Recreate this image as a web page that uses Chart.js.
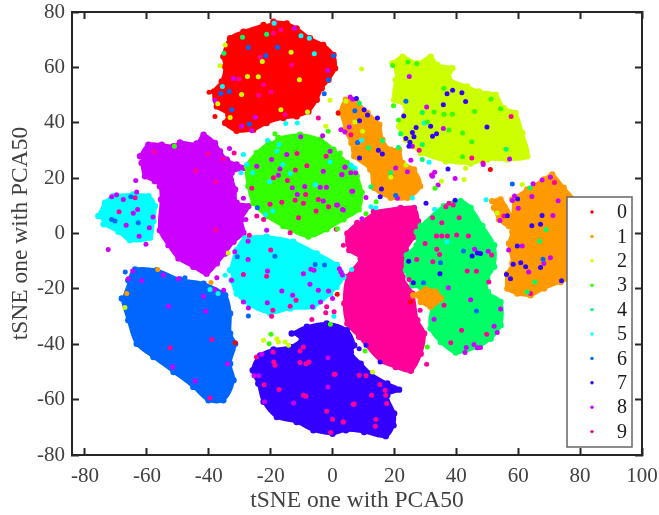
<!DOCTYPE html>
<html>
<head>
<meta charset="utf-8">
<style>body{margin:0;background:#fff}canvas{display:block}</style>
<script src="https://cdn.jsdelivr.net/npm/chart.js@4"></script>
</head>
<body>
<canvas id="tsne" width="659" height="515"></canvas>
<script>
const classNames = ['0','1','2','3','4','5','6','7','8','9'];
const classColors = ['#ff0000','#ff9900','#ccff00','#33ff00','#00ff66','#00ffff','#0066ff','#3300ff','#cc00ff','#ff0099'];
const xTicks = [-80,-60,-40,-20,0,20,40,60,80,100];
const yTicks = [-80,-60,-40,-20,0,20,40,60,80];

// outlines of the dense clusters
const cluster0 = [[-19.1,76.5],[-14.8,75.9],[-11.6,74.1],[-7.3,70.5],[-3,68.1],[0.3,64.5],[0.8,59.7],[-1.3,55.5],[-3.5,52.5],[-5.1,48.3],[-7.8,44.1],[-11.6,42.3],[-15.9,41.7],[-21.3,39.9],[-25.6,37.5],[-31,37.1],[-34.7,39.9],[-33.7,42.9],[-37.4,45.9],[-38.3,51.3],[-35.8,54.9],[-34.7,60.3],[-35.3,63.9],[-33.1,70.5],[-28.8,72.9],[-22.3,75.3]];
const cluster1 = [[2.2,43.5],[4.3,48.3],[8.1,47.1],[11.3,43.5],[15.1,39.3],[16.1,33.9],[18.8,30.3],[21.5,30.3],[22.6,25.5],[26.3,23.1],[28.3,17.1],[24.2,12.9],[18.8,12.9],[13.4,16.5],[12.2,23.1],[7,27.9],[6.1,32.7],[3.8,37.5]];
const cluster1b = [[58.1,12.3],[62.9,15.9],[68.3,19.5],[71,21.3],[74.7,16.5],[78,12],[80,0],[78,-15],[73.7,-17.5],[68.3,-19.9],[64,-22.3],[59.7,-21.7],[56.5,-19.9],[56.5,-14.5],[58.1,-10.8],[57,-3.6],[58.1,0.6],[57.5,2.7]];
const cluster1c = [[51.6,11.7],[54.3,12.3],[57.5,6.3],[57,2.7],[53.8,5.1],[52.2,9.3]];
const cluster1d = [[26.1,-22.3],[30.1,-20.2],[33.3,-21],[35,-23.5],[31.7,-26.5],[28.5,-24.7]];
const cluster2 = [[19.4,61.5],[22.6,63.9],[27.4,61.5],[31.7,63.9],[33.9,60.9],[38.7,59.7],[37.6,56.1],[43.5,53.1],[47.3,51.3],[52.7,50.1],[55.4,45.3],[59.1,43.5],[61.3,36.3],[62.9,27.9],[56.5,26.7],[50,26.7],[44.6,25.3],[36.6,26.1],[28.5,29.1],[26.3,31.5],[23.7,33.9],[21.5,38.7],[23.7,45.9],[19.9,48.3],[20.4,55.5]];
const cluster3 = [[-17.5,34.5],[-10.5,35.7],[-4,33.9],[0.3,30.3],[4.6,25.5],[7.8,20.7],[9.4,14.7],[8.4,8.7],[3.5,5.1],[-1.9,1.5],[-7.8,-1.1],[-15.9,2.7],[-21.3,6.3],[-25.6,11.1],[-27.2,17.1],[-27.7,24.3],[-24.5,29.1],[-20.7,32.7]];
const cluster4 = [[28.5,2.7],[36,9.9],[41.4,11.7],[44.6,9.3],[48.4,2.7],[52.2,-4.2],[52.2,-12],[50,-16.3],[50.2,-21.1],[54.3,-24.7],[54.3,-33.1],[51.1,-38],[46.8,-41],[39.8,-43],[35,-39.2],[31.7,-34.3],[32.3,-27.1],[35.5,-24.1],[33.9,-20.2],[28.5,-19.3],[25.8,-18.7],[23.7,-13.3],[24,-7.8],[27.2,-4.2],[27.2,0.6]];
const cluster5 = [[-33.1,-13.3],[-31,-6],[-28.3,-1.8],[-21.3,-1.2],[-12.7,-3],[-5.1,-7.2],[1.4,-11.4],[3.5,-15.7],[-0.8,-21.7],[-6.2,-26.5],[-13.7,-27.1],[-20.2,-28.7],[-26.7,-25.9],[-31,-21.7],[-32.6,-16.9]];
const cluster5b = [[-75.7,6.3],[-73.5,11.1],[-70.8,13.5],[-64.4,14.1],[-59.5,13.5],[-57.4,9.9],[-57.9,4.5],[-59,-1.5],[-65.5,-2.4],[-69.2,0.6],[-74,3.3]];
const cluster6 = [[-66,-16.9],[-63.8,-13],[-56.8,-13.3],[-49.3,-16.6],[-41.7,-18.1],[-34.7,-22.3],[-33.1,-28.9],[-33.1,-36.1],[-31.5,-39.8],[-33.1,-47],[-32,-53],[-35.3,-60.2],[-40.1,-60.2],[-45,-55.4],[-51.4,-50],[-57.9,-44.6],[-63.3,-39.8],[-66,-31.3],[-68.1,-23.5]];
const cluster7 = [[-13.2,-36.1],[-8.3,-33.7],[-1.9,-32.5],[4.6,-34.9],[7,-40.4],[5.9,-42.8],[9.1,-47],[12.4,-50.6],[17.7,-54.2],[21.5,-56.4],[17.7,-58.4],[19.9,-65],[19.7,-69.3],[17.2,-73.2],[10.2,-71.7],[4.3,-71.1],[0,-72.3],[-6.2,-71.1],[-11.6,-68.1],[-18,-66.3],[-22.3,-60.8],[-24,-54.2],[-25.8,-49.4],[-23.4,-44],[-19.1,-41.9],[-13.7,-41],[-10,-38.6]];
const cluster8 = [[-62.2,27.9],[-59.5,32.1],[-55.2,32.1],[-51.4,31.5],[-49.3,32.9],[-43.9,32.5],[-41.7,35.7],[-38,32.7],[-36.4,29.7],[-34.2,26.7],[-31,24.9],[-28.3,23.7],[-32.6,21.9],[-31.5,15.9],[-31,11.1],[-27.2,9.9],[-29.4,5.1],[-28.8,0.3],[-32,-3],[-34.7,-7.2],[-37.4,-10.8],[-40.7,-14.5],[-45,-12],[-49.8,-9],[-53,-4.2],[-55.8,1.2],[-55.4,12.3],[-55.8,17.1],[-57.4,18.9],[-60.6,20.7],[-61.7,25.5]];
const cluster9 = [[13.4,8],[22,9.2],[26.3,9.2],[27.6,4.4],[26.3,-1.2],[23.7,-6],[23.7,-10.8],[22.6,-15.7],[25.8,-21.7],[27.4,-31.3],[29.6,-36.1],[28.5,-43.4],[25.3,-49.6],[20.4,-48.2],[15.6,-46],[8.6,-37.3],[4.8,-32.5],[3.8,-25.3],[4.8,-15.7],[9.1,-9],[5.4,-6],[4.8,0],[8,3.8]];

// single points that sit on or between the clusters
const stray0 = [[51,23.1],[1.8,43.5],[-39.9,51],[-38,42.3],[-31.5,-39.5],[1.5,-21.9],[25.3,-24.7]];
const stray1 = [[-56.5,-13],[-39.3,-17.7],[-66.5,-21.7]];
const stray2 = [[-34.7,68.1],[-36.4,60.6],[-22.7,62.1],[-13.4,65.5],[-27.5,56.7],[-24,56.6],[-10.7,55.5],[-29.4,50.2],[-37.1,46.9],[-16.7,44.7],[-8.1,43.9],[-33.1,41.9],[-0.8,48.1],[-2.2,38.7],[9.4,59.4],[4.3,47.8],[9.7,36.9],[7.2,40.3],[23.7,24.7],[18.8,20.3],[43,23.6],[35.2,18.9],[42.5,19.5],[61.3,17.7],[53.2,7.4],[-67.1,-26.7],[-33.7,-7],[-22.3,-38.6],[-18,-38],[-17.5,-39.2],[-15.3,-39.2],[-14.2,-40.4],[12.9,-50]];
const stray3 = [[24.4,61.9],[27.2,61.3],[19.4,60.7],[19.7,46.1],[36,52.5],[21.3,41],[32.8,43.9],[36,43.1],[38.7,43.1],[51.2,48.6],[54.3,45.1],[45.9,44.1],[37.6,37.4],[42,36.3],[45,33.1],[30.6,40.3],[42,27.7],[33.1,16.3],[14.1,11.5],[10.8,7.1],[2.5,29.1],[1.6,1.7],[-1.4,36.9],[-18.6,36],[-51.1,31.5],[-19.9,-36.4],[-20.5,-39.8],[-0.7,-32.8],[30.6,-41],[10.5,-42.4]];
const stray4 = [[-29.1,70.9],[-21.3,72],[-35.1,65.1],[8.7,47],[29,43.7],[16.1,33.5],[11.6,31],[21.3,31.1],[22,36],[29,32.1],[29,26.7],[56.1,30.4],[18.8,21.9],[12.4,16.9],[63.8,16.5],[69,1.4],[66.9,-2.8],[65.4,-17.5],[62.9,-21.1]];
const stray5 = [[-18.9,75.9],[-10.2,71.4],[-7.5,70.5],[-5.9,64.9],[-35.6,53.1],[-15.1,39.7],[-11.4,39.9],[-21,33.7],[-18,29.7],[-17.3,32.1],[-28.8,28.5],[-27.7,24.9],[-29.6,21.9],[-16.1,24.9],[-13.7,21.7],[-25.8,21.9],[-20.4,18.7],[-5.6,17.6],[-0.8,25.9],[6,24.7],[7.3,23.7],[-21.6,6.9],[-19.3,8.1],[29.6,39.9],[31.2,25.7],[9.4,33.7],[6.2,24.3],[25.8,12.8],[49.6,12.2],[33,8.8],[12.4,9.7],[14,9.3],[37,-3],[-39.6,-20.2],[-37,-21.7],[-34.7,-15.1],[0.4,-29.9],[1.5,-19.5],[6.2,-13]];
const stray6 = [[-27.2,67.2],[-21.6,64.2],[-17.8,67.3],[0.3,64.2],[-1.3,55.5],[-33.4,51.3],[-36.1,50.6],[-32.6,44.7],[-26.9,39.5],[-2.7,50.5],[-71.4,5.1],[-70.3,4.5],[-62.8,3.9],[-65.2,13.3],[-24.3,9.3],[7.2,44.3],[23.7,47.8],[8.1,32.9],[58.1,17.9],[20.4,13.7],[42.3,-6.3],[34.9,-10.6],[29.4,-17.8],[46.5,-28],[68,-9.3],[-67,-13.9],[-47.7,-16],[-30.8,-8.4],[-18.6,-8.2],[-2.6,-11.4],[-5.6,-11.2],[-27.2,-29.8]];
const stray7 = [[7.7,48.8],[10.2,44.7],[11.3,42.8],[14.5,41.7],[8.7,40.7],[37,50.5],[38.8,51.7],[41.8,50.8],[43,47.7],[35.8,46.5],[23,42.4],[27,38.3],[31.7,38.7],[49.9,38.5],[25.8,36.5],[26.3,34.9],[23.7,34.3],[25,33],[24.7,31.5],[32.3,35.1],[33.6,36],[14.8,30.1],[16.1,28.7],[8.7,27.3],[37.3,23.3],[15.8,16.1],[15.4,13.3],[30.2,10.9],[39.6,12],[59.8,12.5],[56.5,6.4],[64.4,2.8],[67.2,3.3],[67.7,6.5],[59.7,-4.5],[58.4,-11.1],[60.8,-10.6],[62.4,-12],[67.2,-12.3],[56.2,-14.8],[57.5,-16.3],[74,-17.1],[24.6,-10],[45.1,-8.1],[46.8,-7],[47.8,-7.2],[26.1,-17.8],[34.7,-14.5],[15.4,-46.4],[10.8,-40.4],[8.6,-41.6]];
const stray8 = [[-12.3,74.1],[-32,56],[-38,48],[-25,42],[-29.4,38.7],[-26.1,37.1],[-1.6,58.9],[-14.8,28.5],[-10.3,34.9],[-3.2,35.3],[-0.8,29.7],[-19.7,26.7],[-24.5,24.3],[-17,23.3],[-17.5,21],[-3,22.5],[3,21.3],[4,24],[-4,16.7],[-2,16.7],[-13,16.5],[-9,17],[-11.4,14.1],[1.3,10.3],[3.2,8.7],[6.2,15.3],[-3,11.7],[-71.4,13.3],[-69.8,14],[-67.6,12.3],[-63.3,15],[-63,8.7],[-64.4,7.3],[-66.7,3],[-59.2,2.1],[-58,6],[-62.5,-1],[-33.3,30.7],[-63.6,19.1],[-32.6,19.5],[-28.8,12.7],[-28,5.1],[-21.3,1.2],[-72.5,-5.8],[-60.3,-3.9],[-64.6,-13.5],[-66,-16.3],[-61.7,-17.1],[-54.7,-15],[-49.8,-16.3],[-41.7,-22.7],[-53,-26.3],[-41,-28.1],[-37.4,-16],[-35.2,-20.5],[-38,-20.2],[-32.6,-16.9],[-51.7,-48.2],[-44.4,-53.3],[-33.9,-47],[-27.3,-2.8],[-31.6,-6.6],[-27.3,-9.4],[-28.8,-24.7],[-27.2,-26.9],[-21,-13.5],[-21.1,-25],[-16.4,-20.8],[-12.9,-22.3],[-7,-12.9],[-9.4,-14.5],[-6,-13.3],[-7.3,-18.3],[-4.6,-20.5],[-1.3,-20.8],[0,-23.5],[-3.9,-24.7],[-6.5,-26.5],[2.2,-12.7],[2.7,-13.9],[3.2,-15],[-25.4,-51.4],[-23.8,-51.4],[-22.9,-43.6],[-1.5,-44.9],[-1.5,-55.4],[-22,-60.8],[-12.6,-61.2],[5.7,49.3],[6.5,48.5],[24.8,56.7],[30.4,45.7],[35.8,37.9],[25.8,31.5],[25.3,26.5],[5.4,38.5],[2.7,37.5],[4,36.7],[20.4,23.7],[24.2,22.3],[33,22.1],[32.3,20.7],[34.1,17.5],[39.6,19.9],[48.7,24.9],[57.2,26.9],[21,12.7],[5.9,21.9],[7.5,21.9],[4,23.9],[3,21.2],[6.5,15.3],[3.5,8.5],[1.6,10.3],[10.8,13],[9.5,5.3],[64.8,18],[67.7,19.3],[70.4,20.3],[64.4,13.4],[58.8,13.5],[58.1,11.9],[60,9.1],[72.9,11.8],[71.2,6.5],[54.1,4.7],[45.9,-5.7],[50.3,-6.4],[56.9,-6],[61.3,-4.5],[70.4,-8.8],[63.4,-13.9],[68.3,-10.8],[37.4,-19.6],[44.6,-23.9],[54.3,-27.3],[52.2,-33.5],[53.2,-35.8],[32.8,-31],[43.2,-41.2],[45.7,-40.1],[46.8,-41.3],[42.8,-43],[47.8,-41.2]];
const stray9 = [[-18.6,76.2],[-16.7,73.5],[-19.1,72.3],[-23.4,63.6],[-13.2,60.9],[-30.2,55.8],[-22.3,53.7],[-19.9,51.1],[-23.8,49.9],[-15.3,42.9],[-4.6,41.7],[-57.6,29.5],[-40.3,28.7],[-31.8,29.1],[-35.3,26.9],[-44.2,22.7],[-37.8,18.7],[-37.8,1.2],[-11.5,28.9],[-2.1,27.9],[-8.3,24.5],[-12,22.9],[-19.1,20.1],[-14.6,19.1],[-26.1,16.3],[-8.7,14.1],[-4.6,12.3],[-9.4,10.9],[-16.4,11.3],[-12.1,12],[-20.2,10.6],[-1.3,9.7],[-5.3,8.1],[-11,5.7],[-24.5,6.3],[-22.3,5.1],[-69,7.9],[-63.8,12.9],[1.2,1.5],[-13.7,0.3],[-26.9,-0.6],[-20,-6],[-28.8,-14.8],[-21.3,-15.4],[-19.3,-27.7],[-11.8,-24.1],[-19.7,-29.9],[-13.7,-26.3],[-6.7,-31.1],[-1.9,-26.5],[0.5,-28.3],[-2.2,-28.6],[3.5,-4.2],[-52.5,-41.3],[-39,-38.3],[-39.6,-59.4],[-24.6,-44.6],[-19.2,-42.8],[-19,-46.4],[-18.6,-47.6],[-22.1,-54.6],[-17.3,-56.3],[-10.5,-42.4],[-9.4,-41],[-10.5,-46.6],[-8.6,-47],[-7.6,-46.4],[0.5,-50.8],[-9.4,-58.4],[-8.6,-58.8],[6.7,-61.7],[-1.9,-64.2],[0,-67.1],[3.5,-68.1],[-0.6,-71.9],[8.6,-51.2],[5.9,35.7],[57.7,42.3],[28,30.1],[45,27.3],[48.6,25.5],[32,21.1],[32.3,5.7],[35.3,3.9],[36.6,9.7],[37.6,10.9],[39,10.3],[40.9,5.7],[33.6,-0.9],[35.3,-0.9],[37.1,-0.9],[40.1,-0.5],[43.9,-0.9],[71.7,18.4],[55.4,6.3],[29.9,-3.6],[33.7,-5.7],[34.6,-7.6],[27.2,-9.4],[32.4,-10.2],[43.5,-13.5],[46.5,-13.6],[24.7,-16.6],[50.5,-17.5],[51.4,-7.8],[36,-25.9],[28.3,-27.7],[41.7,-34.9],[49.8,-36.4],[38.2,-39.5],[30.4,-47.2],[0.8,-50.8],[10.8,-51.4],[15.3,-54.5],[12.6,-58.4],[17,-56.6],[17.2,-58.4],[17.5,-61.4],[7,-61.6],[3.4,-68.1],[14,-67.2],[13.8,-69.6],[64,-21.7]];

const clusters = [[cluster0,0],[cluster1,1],[cluster1b,1],[cluster1c,1],[cluster1d,1],[cluster2,2],[cluster3,3],[cluster4,4],[cluster5,5],[cluster5b,5],[cluster6,6],[cluster7,7],[cluster8,8],[cluster9,9]];
const strays = [stray0,stray1,stray2,stray3,stray4,stray5,stray6,stray7,stray8,stray9];

const toXY = pts => pts.map(p => ({x: p[0], y: p[1]}));
const axisColor = '#262626';
const serif = '"Liberation Serif", serif';

const datasets = [];
// strays first so they are painted on top of every cluster
strays.forEach((pts, i) => datasets.push({
  label: classNames[i],
  data: toXY(pts),
  backgroundColor: classColors[i],
  borderWidth: 0,
  pointRadius: 2.5
}));
clusters.forEach(c => datasets.push({
  label: classNames[c[1]],
  data: toXY(c[0]),
  showLine: true,
  tension: 0.35,
  fill: 'shape',
  borderColor: classColors[c[1]],
  borderWidth: 3,
  backgroundColor: classColors[c[1]],
  pointBackgroundColor: classColors[c[1]],
  pointBorderWidth: 0,
  pointRadius: 3.2
}));

// legend box sits inside the axes, over the orange cluster
const insideLegend = {
  id: 'insideLegend',
  afterDraw(chart) {
    const c = chart.ctx;
    c.save();
    c.fillStyle = '#fff';
    c.strokeStyle = '#666';
    c.lineWidth = 1.5;
    c.fillRect(567, 197, 65, 250);
    c.strokeRect(567, 197, 65, 250);
    c.font = '20px ' + serif;
    c.textBaseline = 'middle';
    classNames.forEach((name, i) => {
      const y = 212 + i * 24.4;
      c.fillStyle = classColors[i];
      c.beginPath();
      c.arc(592, y, 1.7, 0, Math.PI * 2);
      c.fill();
      c.fillStyle = '#1a1a1a';
      c.fillText(name, 617, y + 1);
    });
    c.restore();
  }
};

const tickStyle = {font: {family: serif, size: 21}, color: '#404040'};
const gridStyle = {drawOnChartArea: false, tickLength: -7, tickColor: axisColor, tickWidth: 2};
const borderStyle = {color: axisColor, width: 2};
const useTicks = list => scale => { scale.ticks = list.map(v => ({value: v})); };
// fix the box sizes so the plot area lands where it does in the picture
const fixBox = (w, h) => s => {
  if (w !== null) s.width = w;
  if (h !== null) s.height = h;
  s.paddingLeft = s.paddingRight = s.paddingTop = s.paddingBottom = 0;
};

new Chart(document.getElementById('tsne'), {
  type: 'scatter',
  data: {datasets},
  plugins: [insideLegend],
  options: {
    responsive: false,
    animation: false,
    layout: {padding: {top: 12, right: 17, left: 0, bottom: 0}},
    plugins: {legend: {display: false}, tooltip: {enabled: false}},
    scales: {
      x: {
        min: -84.2, max: 100,
        afterBuildTicks: useTicks(xTicks),
        afterFit: fixBox(null, 60),
        grid: gridStyle, border: borderStyle,
        ticks: Object.assign({padding: 16, maxRotation: 0, autoSkip: false}, tickStyle),
        title: {display: true, text: 'tSNE one with PCA50', font: {family: serif, size: 23.5}, color: '#404040', padding: {top: 0, bottom: 0}}
      },
      y: {
        min: -80, max: 80,
        afterBuildTicks: useTicks(yTicks),
        afterFit: fixBox(72, null),
        grid: gridStyle, border: borderStyle,
        ticks: Object.assign({padding: 14, autoSkip: false}, tickStyle),
        title: {display: true, text: 'tSNE one with PCA50', font: {family: serif, size: 23.5}, color: '#404040', padding: {top: 7, bottom: 0}}
      },
      xTop: {
        position: 'top', min: -84.2, max: 100,
        afterBuildTicks: useTicks(xTicks),
        afterFit: fixBox(null, 0),
        grid: gridStyle, border: borderStyle,
        ticks: {display: false}
      },
      yRight: {
        position: 'right', min: -80, max: 80,
        afterBuildTicks: useTicks(yTicks),
        afterFit: fixBox(0, null),
        grid: gridStyle, border: borderStyle,
        ticks: {display: false}
      }
    }
  }
});
</script>
</body>
</html>
